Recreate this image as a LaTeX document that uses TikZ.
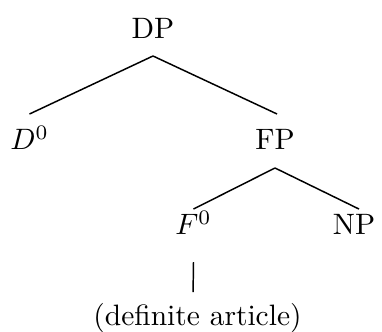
\documentclass[tikz,border=0pt]{standalone}
\usepackage{tikz}
\usetikzlibrary{positioning}

\begin{document}
\begin{tikzpicture}[x=0.339pt, y=-0.339pt, line width=0.5pt, every node/.style={anchor=base, inner sep=0pt}]
  % Frame 382x332
  \useasboundingbox (0,0) rectangle (382,332);
  \node (dp) at (153,38) {DP};
  \node (dzero) at (29.5,150) {$D^0$};
  \node (fp) at (275,150) {FP};
  \node (fzero) at (193.5,235) {$F^0$};
  \node (np) at (354,235) {NP};
  \node (art) at (197.5,326) {(definite article)};
  % Branches
  \draw ([yshift=-6.1pt]dp.base) -- ([yshift=12.2pt]dzero.base);
  \draw ([yshift=-6.1pt]dp.base) -- ([xshift=0.7pt,yshift=12.2pt]fp.base);
  \draw ([yshift=-6.1pt]fp.base) -- ([yshift=8.8pt]fzero.base);
  \draw ([yshift=-6.1pt]fp.base) -- ([xshift=1.7pt,yshift=8.8pt]np.base);
  \draw ([yshift=-9.2pt]fzero.base) -- ([xshift=-1.5pt,yshift=11.5pt]art.base);
\end{tikzpicture}
\end{document}
